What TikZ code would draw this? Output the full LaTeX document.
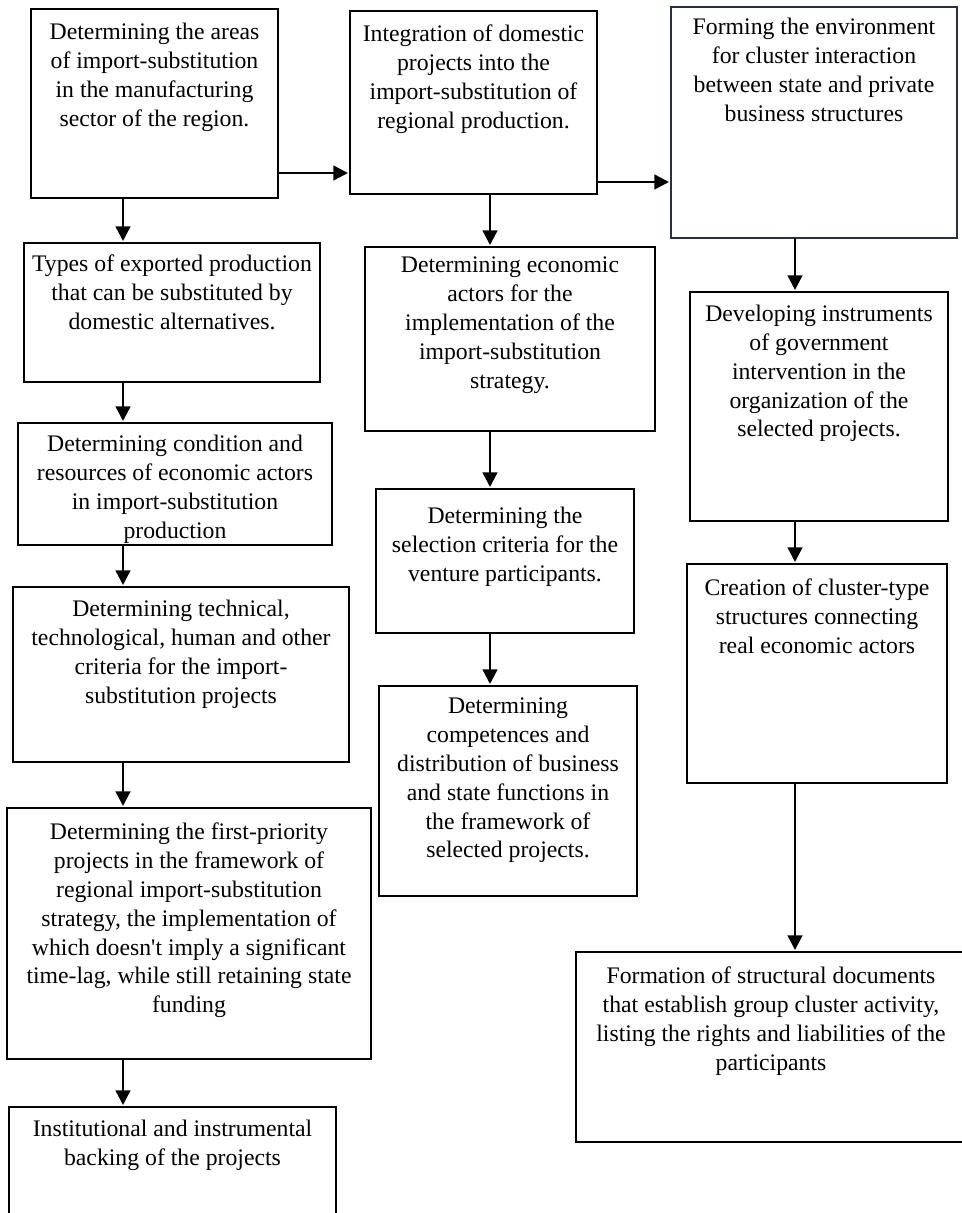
\documentclass[tikz,border=0pt]{standalone}
\usepackage{fontspec}
\setmainfont{Liberation Serif}
\usetikzlibrary{arrows.meta,fit}
\definecolor{slateedge}{RGB}{43,48,60}
\begin{document}
\begin{tikzpicture}[x=0.75pt,y=-0.75pt,
  box/.style={draw=black,line width=1.9pt,inner sep=0pt,outer sep=0pt,rectangle},
  txt/.style={align=center,inner sep=0pt,anchor=north,font=\fontsize{17.8pt}{21.6pt}\selectfont},
  arr/.style={line width=1.8pt,-{Triangle[length=11pt,width=11pt]},shorten >=1.5pt}]
\useasboundingbox (0,0) rectangle (962,1213);
\clip (0,0) rectangle (962,1213);
% boxes
\node[box, fit={(31,9) (278,198)}] (b1) {};
\node[box, fit={(24,243) (320,382)}] (b2) {};
\node[box, fit={(18,423) (332,545)}] (b3) {};
\node[box, fit={(13,587) (349,762)}] (b4) {};
\node[box, fit={(7,808) (371,1059)}] (b5) {};
\node[box, fit={(9,1107) (336,1230)}] (b6) {};
\node[box, fit={(350,11) (597,194)}] (b7) {};
\node[box, fit={(365,247) (655,431)}] (b8) {};
\node[box, fit={(376,489) (634,633)}] (b9) {};
\node[box, fit={(379,686) (637,896)}] (b10) {};
\node[box, draw=slateedge, fit={(671,7) (957,238)}] (b11) {};
\node[box, fit={(690,292) (948,521)}] (b12) {};
\node[box, fit={(687,564) (947,783)}] (b13) {};
\node[box, fit={(576,952) (966,1142)}] (b14) {};
% texts
\node[txt] (t1) at (154.5,23) {Determining the areas\\of import-substitution\\in the manufacturing\\sector of the region.};
\node[txt] (t2) at (172,255) {Types of exported production\\that can be substituted by\\domestic alternatives.};
\node[txt] (t3) at (175,435) {Determining condition and\\resources of economic actors\\in import-substitution\\production};
\node[txt] (t4) at (181,600) {Determining technical,\\technological, human and other\\criteria for the import-\\substitution projects};
\node[txt] (t5) at (189,823) {Determining the first-priority\\projects in the framework of\\regional import-substitution\\strategy, the implementation of\\which doesn\textquotesingle t imply a significant\\time-lag, while still retaining state\\funding};
\node[txt] (t6) at (172.5,1120) {Institutional and instrumental\\backing of the projects};
\node[txt] (t7) at (473.5,25) {Integration of domestic\\projects into the\\import-substitution of\\regional production.};
\node[txt] (t8) at (510,257) {Determining economic\\actors for the\\implementation of the\\import-substitution\\strategy.};
\node[txt] (t9) at (505,507) {Determining the\\selection criteria for the\\venture participants.};
\node[txt] (t10) at (508,698) {Determining\\competences and\\distribution of business\\and state functions in\\the framework of\\selected projects.};
\node[txt] (t11) at (814,18) {Forming the environment\\for cluster interaction\\between state and private\\business structures};
\node[txt] (t12) at (819,305) {Developing instruments\\of government\\intervention in the\\organization of the\\selected projects.};
\node[txt] (t13) at (817,579) {Creation of cluster-type\\structures connecting\\real economic actors};
\node[txt] (t14) at (771,967) {Formation of structural documents\\that establish group cluster activity,\\listing the rights and liabilities of the\\participants};
% connector guides
\coordinate (xl) at (123,0);
\coordinate (xm) at (490,0);
\coordinate (xr) at (795,0);
\coordinate (ya) at (0,173);
\coordinate (yb) at (0,182);
% connectors
\draw[arr] (b1.east |- ya) -- (b7.west |- ya);
\draw[arr] (b7.east |- yb) -- (b11.west |- yb);
\draw[arr] (b1.south -| xl) -- (b2.north -| xl);
\draw[arr] (b2.south -| xl) -- (b3.north -| xl);
\draw[arr] (b3.south -| xl) -- (b4.north -| xl);
\draw[arr] (b4.south -| xl) -- (b5.north -| xl);
\draw[arr] (b5.south -| xl) -- (b6.north -| xl);
\draw[arr] (b7.south -| xm) -- (b8.north -| xm);
\draw[arr] (b8.south -| xm) -- (b9.north -| xm);
\draw[arr] (b9.south -| xm) -- (b10.north -| xm);
\draw[arr] (b11.south -| xr) -- (b12.north -| xr);
\draw[arr] (b12.south -| xr) -- (b13.north -| xr);
\draw[arr] (b13.south -| xr) -- (b14.north -| xr);
\end{tikzpicture}
\end{document}
